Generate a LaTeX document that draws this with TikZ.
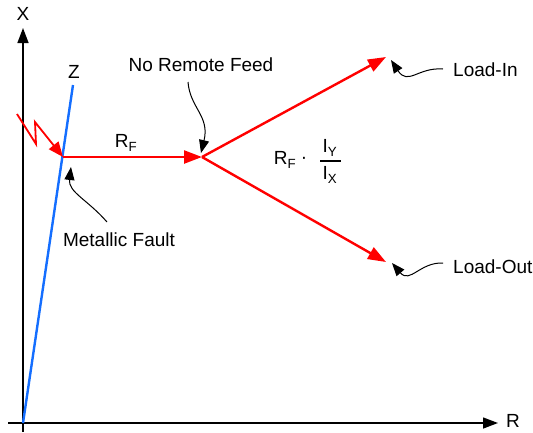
\documentclass[tikz,border=0pt]{standalone}
\usepackage{fontspec}
\setmainfont{Liberation Sans}
\usetikzlibrary{arrows.meta}
\begin{document}
\begin{tikzpicture}[x=1pt,y=-1pt,
  lbl/.style={inner sep=0pt,font=\fontsize{19}{22}\selectfont},
  axis/.style={line width=1.4pt,-{Triangle[length=15pt,width=11pt]}},
  redline/.style={draw=red,line width=2.4pt},
  redarrow/.style={redline,-{Triangle[length=18pt,width=13pt]}},
  note/.style={line width=1pt,-{Triangle[length=13pt,width=10pt]}}]
\useasboundingbox (0,0) rectangle (533,432);
% axes
\coordinate (xb) at (23,432);
\coordinate (xt) at (23,28);
\coordinate (rl) at (8,423);
\coordinate (rr) at (498,423);
\draw[axis] (xb) -- (xt);
\draw[axis] (rl) -- (rr);
\node[lbl] (xlab) at (23,14) {X};
\node[lbl] (rlab) at (513,421) {R};
% Z line
\coordinate (o) at (23,423);
\coordinate (zt) at (73,85);
\draw[draw={rgb,255:red,20;green,110;blue,255},line width=2.4pt] (o) -- (zt);
\node[lbl] (zlab) at (74,72) {Z};
% fault point and feed point
\coordinate (f) at (63,157);
\coordinate (p) at (202,157);
\coordinate (li) at (386,57);
\coordinate (lo) at (386,262);
\draw[redarrow] (f) -- (p);
\draw[redarrow] (p) -- (li);
\draw[redarrow] (p) -- (lo);
% lightning
\coordinate (l1) at (17,114);
\coordinate (l2) at (36,144);
\coordinate (l3) at (35,122);
\draw[draw=red,line width=1.8pt,-{Triangle[length=15pt,width=12pt]},red] (l1) -- (l2) -- (l3) -- (f);
% labels
\node[lbl] (rf) at (126,143) {R\textsubscript{F}};
\node[lbl] (nrf) at (201,65) {No Remote Feed};
\node[lbl] (mf) at (119,240) {Metallic Fault};
\node[lbl,anchor=west] (lin) at (453,70) {Load-In};
\node[lbl,anchor=west] (lout) at (453,267) {Load-Out};
% formula
\node[lbl] (frf) at (285,160) {R\textsubscript{F}};
\node[lbl] (fdot) at (304,160) {\textperiodcentered};
\node[lbl] (iy) at (330,148) {I\textsubscript{Y}};
\node[lbl] (ix) at (330,175) {I\textsubscript{X}};
\coordinate (fl) at (320,161);
\coordinate (fr) at (341,161);
\draw[line width=1.2pt] (fl) -- (fr);
% annotation arrows
\coordinate (nrfs) at (188,82);
\coordinate (nrft) at (201,153);
\draw[note] (nrfs) .. controls (190,108) and (210,116) .. (nrft);
\coordinate (mfs) at (107,222);
\coordinate (mft) at (71,167);
\draw[note] (mfs) .. controls (88,200) and (68,192) .. (mft);
\coordinate (lis) at (443,69);
\coordinate (lit) at (391,60);
\draw[note] (lis) .. controls (418,67) and (408,86) .. (lit);
\coordinate (los) at (443,263);
\coordinate (lot) at (392,263);
\draw[note] (los) .. controls (420,262) and (410,284) .. (lot);
\end{tikzpicture}
\end{document}
